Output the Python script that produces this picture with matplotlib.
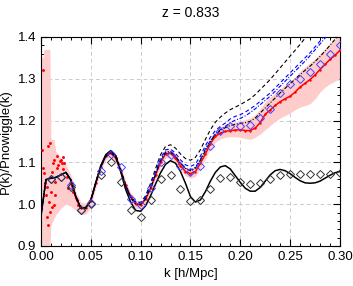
import numpy as np
import matplotlib
matplotlib.use("Agg")
import matplotlib.pyplot as plt
from matplotlib.ticker import MultipleLocator

plt.rcParams['font.family'] = ['Liberation Sans', 'DejaVu Sans']

# k grid for the model curves (0.005 h/Mpc steps)
k = np.linspace(0.0, 0.30, 61)

# linear theory (black solid)
p_lin = [0.970, 1.059, 1.062, 1.064, 1.070, 1.076, 1.058, 1.018, 0.991, 0.992,
         1.010, 1.052, 1.092, 1.118, 1.128, 1.116, 1.078, 1.035, 1.005, 0.985,
         0.983, 0.996, 1.020, 1.048, 1.075, 1.095, 1.104, 1.098, 1.078, 1.050,
         1.018, 1.005, 1.010, 1.030, 1.055, 1.076, 1.089, 1.092, 1.084, 1.068,
         1.052, 1.038, 1.031, 1.031, 1.040, 1.055, 1.070, 1.080, 1.083, 1.080,
         1.073, 1.064, 1.056, 1.051, 1.050, 1.051, 1.055, 1.062, 1.069, 1.075,
         1.078]

# black dashed model
p_bdash = [0.970, 1.059, 1.062, 1.064, 1.070, 1.076, 1.058, 1.018, 0.991, 0.992,
           1.010, 1.052, 1.090, 1.118, 1.128, 1.118, 1.084, 1.045, 1.018, 1.006,
           1.004, 1.020, 1.050, 1.085, 1.118, 1.138, 1.142, 1.134, 1.120, 1.109,
           1.105, 1.112, 1.130, 1.155, 1.178, 1.196, 1.208, 1.218, 1.226, 1.232,
           1.238, 1.245, 1.252, 1.262, 1.274, 1.286, 1.298, 1.312, 1.326, 1.340,
           1.354, 1.368, 1.382, 1.397, 1.412, 1.427, 1.442, 1.457, 1.472, 1.487,
           1.502]

# blue dashed model
p_blue = [0.970, 1.059, 1.062, 1.064, 1.070, 1.076, 1.058, 1.018, 0.990, 0.991,
          1.009, 1.050, 1.088, 1.115, 1.125, 1.116, 1.083, 1.044, 1.017, 1.005,
          1.002, 1.018, 1.045, 1.078, 1.110, 1.130, 1.132, 1.122, 1.106, 1.094,
          1.090, 1.096, 1.115, 1.140, 1.160, 1.176, 1.186, 1.194, 1.204, 1.210,
          1.214, 1.220, 1.228, 1.236, 1.246, 1.256, 1.266, 1.278, 1.290, 1.302,
          1.314, 1.326, 1.338, 1.350, 1.362, 1.376, 1.390, 1.404, 1.418, 1.432,
          1.446]

# blue dash-dot model
p_blue2 = [0.970, 1.059, 1.062, 1.064, 1.070, 1.076, 1.058, 1.018, 0.990, 0.991,
           1.009, 1.050, 1.088, 1.114, 1.124, 1.114, 1.081, 1.042, 1.014, 1.001,
           0.999, 1.014, 1.040, 1.072, 1.103, 1.122, 1.124, 1.114, 1.098, 1.086,
           1.082, 1.088, 1.107, 1.132, 1.152, 1.168, 1.178, 1.186, 1.195, 1.201,
           1.205, 1.211, 1.219, 1.228, 1.238, 1.248, 1.258, 1.270, 1.282, 1.294,
           1.306, 1.318, 1.330, 1.342, 1.355, 1.369, 1.383, 1.397, 1.411, 1.425,
           1.439]

# black dash-dot model
p_bdd = [0.970, 1.059, 1.062, 1.064, 1.070, 1.076, 1.058, 1.018, 0.990, 0.990,
         1.008, 1.050, 1.088, 1.114, 1.123, 1.112, 1.080, 1.043, 1.016, 1.001,
         0.999, 1.012, 1.038, 1.070, 1.105, 1.125, 1.126, 1.115, 1.098, 1.085,
         1.080, 1.086, 1.105, 1.128, 1.150, 1.166, 1.176, 1.183, 1.188, 1.191,
         1.193, 1.195, 1.198, 1.206, 1.218, 1.230, 1.242, 1.254, 1.266, 1.277,
         1.288, 1.299, 1.310, 1.320, 1.330, 1.341, 1.353, 1.366, 1.380, 1.394,
         1.408]

# simulation mean (red line), from k = 0.03
k_red = np.linspace(0.03, 0.30, 55)
p_red = [1.050, 1.015, 0.990, 0.990, 1.008, 1.050, 1.090, 1.115, 1.122, 1.110,
         1.080, 1.045, 1.018, 1.000, 0.998, 1.012, 1.038, 1.070, 1.100, 1.120,
         1.122, 1.110, 1.092, 1.078, 1.073, 1.078, 1.098, 1.120, 1.145, 1.162,
         1.170, 1.174, 1.176, 1.177, 1.178, 1.176, 1.176, 1.182, 1.195, 1.215,
         1.225, 1.236, 1.245, 1.252, 1.258, 1.268, 1.280, 1.289, 1.298, 1.309,
         1.322, 1.334, 1.346, 1.356, 1.368]

# scattered simulation points at low k
k_pts = [0.001, 0.002, 0.002, 0.003, 0.004, 0.005, 0.006, 0.006, 0.007, 0.007,
         0.008, 0.009, 0.009, 0.010, 0.011, 0.011, 0.012, 0.013, 0.013, 0.014,
         0.014, 0.016, 0.016, 0.017, 0.019, 0.020, 0.021, 0.022, 0.022, 0.023,
         0.026, 0.027, 0.029, 0.031, 0.032, 0.036, 0.037, 0.039]
p_pts = [1.130, 1.320, 1.086, 1.074, 1.050, 1.022, 0.970, 1.042, 1.138, 0.950,
         1.006, 1.146, 0.982, 1.030, 1.078, 0.994, 1.098, 1.106, 0.998, 1.054,
         1.022, 1.086, 1.114, 1.094, 1.102, 1.106, 1.098, 1.112, 1.084, 1.098,
         1.066, 1.038, 1.050, 1.050, 1.030, 1.010, 0.998, 0.996]

# error band
k_band = np.concatenate([[0.0, 0.002, 0.003, 0.009, 0.010, 0.013],
                         np.linspace(0.015, 0.30, 58)])
band_hi = [1.350, 1.350, 1.370, 1.370, 1.155, 1.155,
           1.125, 1.110, 1.095, 1.070, 1.030, 1.005, 1.002, 1.020, 1.060, 1.098,
           1.122, 1.130, 1.119, 1.090, 1.055, 1.028, 1.010, 1.007, 1.020, 1.047,
           1.080, 1.110, 1.130, 1.132, 1.120, 1.102, 1.089, 1.085, 1.090, 1.110,
           1.132, 1.158, 1.176, 1.184, 1.190, 1.194, 1.197, 1.200, 1.202, 1.206,
           1.214, 1.228, 1.245, 1.256, 1.266, 1.276, 1.285, 1.293, 1.304, 1.318,
           1.328, 1.338, 1.348, 1.360, 1.372, 1.384, 1.394, 1.404]
band_lo = [0.900, 0.900, 0.900, 0.900, 0.950, 0.965,
           0.975, 0.990, 1.000, 0.995, 0.985, 0.975, 0.976, 0.994, 1.038, 1.080,
           1.106, 1.113, 1.100, 1.070, 1.035, 1.008, 0.990, 0.989, 1.004, 1.029,
           1.060, 1.090, 1.110, 1.112, 1.100, 1.082, 1.068, 1.062, 1.066, 1.086,
           1.108, 1.132, 1.148, 1.156, 1.160, 1.161, 1.161, 1.160, 1.157, 1.155,
           1.160, 1.168, 1.178, 1.188, 1.198, 1.206, 1.212, 1.218, 1.226, 1.232,
           1.236, 1.240, 1.252, 1.268, 1.280, 1.288, 1.294, 1.300]

# diamonds
k_dia = np.linspace(0.01, 0.30, 30)
p_dia_blue = [1.061, 1.066, 1.045, 0.985, 1.002, 1.080, 1.120, 1.088, 1.012, 0.998,
              1.038, 1.100, 1.118, 1.092, 1.076, 1.092, 1.140, 1.176, 1.186, 1.188,
              1.190, 1.205, 1.228, 1.266, 1.288, 1.300, 1.315, 1.335, 1.358, 1.381]
p_dia_black = [1.061, 1.066, 1.042, 0.987, 1.000, 1.070, 1.100, 1.054, 0.985, 0.969,
               1.010, 1.060, 1.069, 1.036, 1.008, 1.010, 1.037, 1.062, 1.065, 1.053,
               1.048, 1.050, 1.061, 1.070, 1.072, 1.072, 1.072, 1.072, 1.073, 1.075]

fig = plt.figure(figsize=(3.53, 2.86), dpi=100)
ax = fig.add_axes([0.116, 0.140, 0.847, 0.731])

ax.fill_between(k_band, band_lo, band_hi, color='#ffcccc', lw=0, zorder=1)
ax.plot(k_red, p_red, color='red', lw=1.1, zorder=3)
ax.plot(k_red, p_red, '.', color='red', ms=1.5, zorder=3)
ax.plot(k_pts, p_pts, '.', color='red', ms=2.2, zorder=3)

ax.plot(k, p_bdash, color='black', ls=(0, (3.5, 2.5)), lw=0.8, zorder=4)
ax.plot(k, p_blue, color='blue', ls=(0, (3.5, 2.5)), lw=0.8, zorder=4)
ax.plot(k, p_blue2, color='blue', ls=(0, (3.5, 1.5, 1, 1.5)), lw=0.8, zorder=4)
ax.plot(k, p_bdd, color='black', ls=(0, (3.5, 1.5, 1, 1.5)), lw=0.8, zorder=4)
ax.plot(k, p_lin, color='black', lw=1.1, zorder=5)

ax.plot(k_dia, p_dia_blue, 'D', mfc='none', mec='#4444ff', ms=4.5, mew=0.7, zorder=6)
ax.plot(k_dia, p_dia_black, 'D', mfc='none', mec='#333333', ms=4.5, mew=0.7, zorder=6)

ax.set_xlim(0, 0.30)
ax.set_ylim(0.9, 1.4)
ax.xaxis.set_major_locator(MultipleLocator(0.05))
ax.xaxis.set_minor_locator(MultipleLocator(0.01))
ax.yaxis.set_major_locator(MultipleLocator(0.1))
ax.yaxis.set_minor_locator(MultipleLocator(0.02))
ax.xaxis.set_major_formatter(plt.FormatStrFormatter('%.2f'))
ax.yaxis.set_major_formatter(plt.FormatStrFormatter('%.1f'))
ax.tick_params(which='both', direction='in', top=True, right=True, labelsize=9.5)
ax.tick_params(which='major', length=5, width=0.8)
ax.tick_params(which='minor', length=2.5, width=0.7)
ax.grid(True, which='major', color='#cccccc', ls=(0, (4, 3)), lw=0.7)
ax.set_axisbelow(True)

ax.set_xlabel('k [h/Mpc]', fontsize=9.5)
ax.set_ylabel('P(k)/Pnowiggle(k)', fontsize=9.5)
ax.set_title('z = 0.833', fontsize=10, pad=14)

fig.savefig('out.png', dpi=100)
